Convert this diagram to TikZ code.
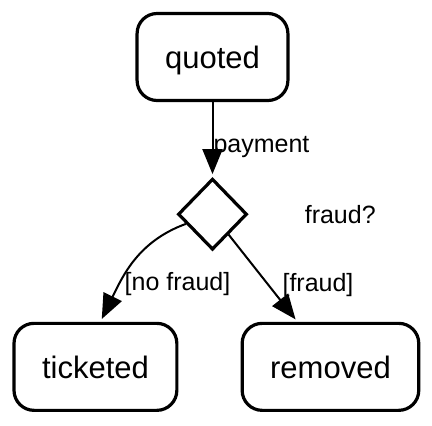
\documentclass[tikz,border=0pt]{standalone}
\usepackage{fontspec}
\setmainfont{Liberation Sans}
\usetikzlibrary{positioning,arrows.meta,shapes.geometric}
\tikzset{
	node distance=75pt and 16pt,% vertical gap quoted -> choice
	state/.style={rectangle, rounded corners=20pt, draw, line width=3.2pt, minimum height=87pt, inner xsep=28pt, text depth=0pt, font=\fontsize{31}{37}\selectfont},
	choice/.style={diamond, draw, line width=3.2pt, minimum width=69pt, minimum height=71pt, inner sep=0pt},
	trans/.style={-{Triangle[length=25pt,width=20pt]}, line width=2pt, shorten >=3pt},
	lbl/.style={font=\fontsize{25}{30}\selectfont, inner sep=0pt}
}

\begin{document}
\begin{tikzpicture}[x=1pt,y=1pt]
	\useasboundingbox (0,0) rectangle (432,-426);
	\node[state] (quoted) at (212.5,-57) {quoted};
	\node[choice] (check) [below=of quoted] {};
	\node[lbl] (fraudq) [right=56pt of check] {fraud?};
	\node[state] (ticketed) [below left=89pt and 16pt of check] {ticketed};
	\node[state] (removed) [below right=89pt and 10pt of check] {removed};
	\draw[trans] (quoted) -- node[lbl, pos=0.6, anchor=west, xshift=0pt] (pay) {payment} (check);
	\draw[trans] (check) to[out=200, in=64] node[lbl, pos=0.7, anchor=west, xshift=4pt] (nofr) {[no fraud]} ([xshift=5pt]ticketed.north);
	\draw[trans] (check) -- node[lbl, pos=0.58, anchor=west, xshift=13pt] (fr) {[fraud]} ([xshift=-33pt]removed.north);
\end{tikzpicture}
\end{document}
